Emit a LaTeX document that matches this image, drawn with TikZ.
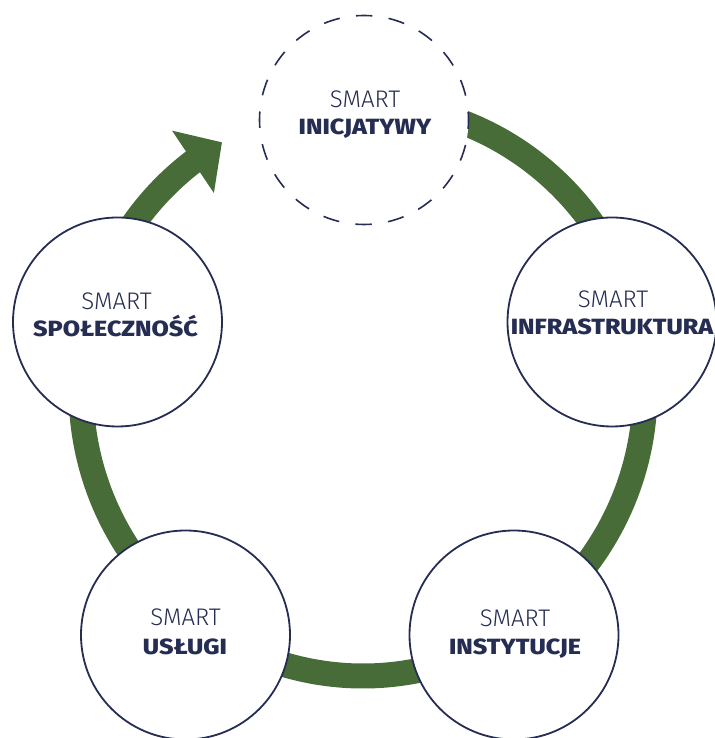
\documentclass[tikz,border=0pt]{standalone}
\usepackage{fontspec}
\usepackage{graphicx}
\usetikzlibrary{arrows.meta,bending,calc}
\newfontfamily\smartlight{Fira Sans Light}
\newfontfamily\smartbold{Fira Sans ExtraBold}
\newcommand{\stagename}[1]{\scalebox{1.14}[1]{\smartbold\fontsize{22}{22}\selectfont #1}}
\definecolor{navy}{RGB}{38,45,82}
\definecolor{leaf}{RGB}{71,108,55}
\tikzset{
  stage/.style={circle,draw=navy,line width=1.8pt,fill=white,minimum size=209pt,inner sep=0pt},
  dashstage/.style={stage,dash pattern=on 16.4pt off 16.4pt,dash phase=8.2pt,line width=1.6pt},
  smartlbl/.style={anchor=base,text=navy,inner sep=0pt,font=\smartlight\fontsize{24}{24}\selectfont},
  namelbl/.style={anchor=base,text=navy,inner sep=0pt},
  ring/.style={draw=leaf,line width=25pt}
}
\begin{document}
\begin{tikzpicture}[x=1pt,y=1pt]
\useasboundingbox (0,0) rectangle (714,738);
\coordinate (C) at (363,348);
% green ring
\draw[ring] ($(C)+(100:282pt and 286pt)$) arc[start angle=100,end angle=-190,x radius=282pt,y radius=286pt];
\draw[ring,-{Triangle[length=35pt,width=73pt]}] ($(C)+(170:282pt and 286pt)$) arc[start angle=170,end angle=120,x radius=282pt,y radius=286pt];
% circles
\node[dashstage] (T) at (364,618) {};
\node[stage] (R) at (612,416) {};
\node[stage] (BR) at (514,103) {};
\node[stage] (BL) at (185.5,103) {};
\node[stage] (L) at (117.5,416) {};
% labels
\node[smartlbl] (Ts) at (365,630) {SMART};
\node[namelbl] (Tb) at (365,603) {\stagename{INICJATYWY}};
\node[smartlbl] (Rs) at (613,430) {SMART};
\node[namelbl] (Rb) at (612,403) {\stagename{INFRASTRUKTURA}};
\node[smartlbl] (BRs) at (515,111) {SMART};
\node[namelbl] (BRb) at (515,83) {\stagename{INSTYTUCJE}};
\node[smartlbl] (BLs) at (185.5,112) {SMART};
\node[namelbl] (BLb) at (185,83) {\stagename{USŁUGI}};
\node[smartlbl] (Ls) at (116.5,428) {SMART};
\node[namelbl] (Lb) at (115.5,401) {\stagename{SPOŁECZNOŚĆ}};
\end{tikzpicture}
\end{document}
